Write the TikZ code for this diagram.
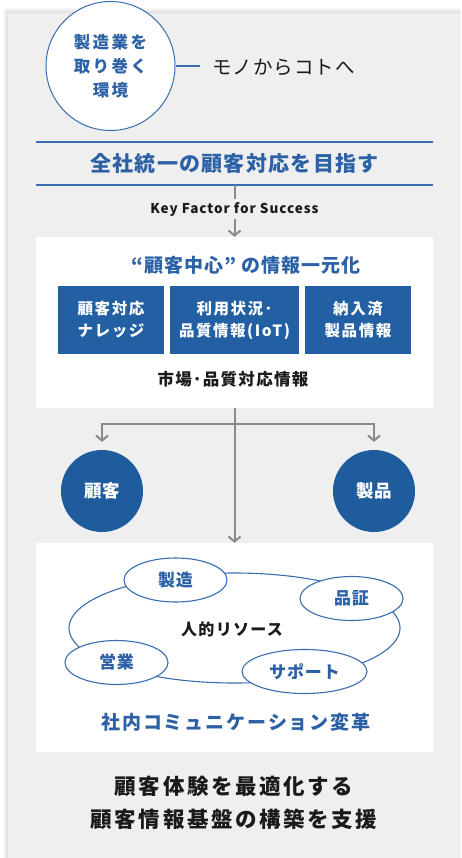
\documentclass[tikz,border=0pt]{standalone}
\usepackage{fontspec}
\setmainfont{Noto Sans CJK JP}
\usetikzlibrary{arrows.meta,shapes.geometric}
\definecolor{panelgray}{HTML}{EFEFEF}
\definecolor{txtblue}{HTML}{2C62A5}
\definecolor{lineblue}{HTML}{3A6DB0}
\definecolor{boxblue}{HTML}{2260A3}
\definecolor{circblue}{HTML}{1E5C9E}
\definecolor{arrgray}{HTML}{8A8A8A}
\definecolor{txtblack}{HTML}{1A1A1A}
\newcommand{\fs}[3]{\fontsize{#1}{#2}\selectfont\bfseries\addfontfeatures{LetterSpace=#3}}
\newcommand{\fr}[3]{\fontsize{#1}{#2}\selectfont\addfontfeatures{LetterSpace=#3}}
\begin{document}
\begin{tikzpicture}[x=1pt,y=-1pt,
  blueline/.style={draw=lineblue, line width=1.1pt},
  grayline/.style={draw=arrgray, line width=2pt},
  arr/.style={draw=arrgray, line width=2pt, -{Straight Barb[length=5pt,width=12pt]}},
  whitebox/.style={fill=white, minimum width=397, minimum height=#1, inner sep=0},
  bluebox/.style={fill=boxblue, text=white, minimum height=68, inner sep=0, align=center, font=\fs{15.5}{22}{10}},
  bigcirc/.style={circle, fill=circblue, text=white, minimum size=82, inner sep=0, font=\fs{17.5}{20}{5}},
  smallell/.style={ellipse, draw=lineblue, line width=1.1pt, fill=white, minimum height=44, inner sep=0, text=txtblue, font=\fs{17}{20}{5}}
]
\useasboundingbox (0,0) rectangle (461,858);
% panel with soft shadow
\foreach \d in {1,2,3,4,5} {
  \fill[black, opacity=0.025] (8-\d,13-\d) rectangle (461,858);
}
\fill[panelgray] (8,13) rectangle (461,858);

% top circle
\node[circle, draw=lineblue, line width=1pt, fill=white, minimum size=129, inner sep=0,
      align=center, text=txtblue, font=\fs{16.5}{24}{15}] (env) at (110.5,66)
      {製造業を\\取り巻く\\環境};
\node[anchor=west, text=txtblack, font=\fr{19.5}{22}{5}, inner sep=0] (mono) at (212,67) {モノからコトへ};
\coordinate (monoend) at (200,66);
\draw[blueline] (env.east) -- (monoend);

% title with lines
\coordinate (l1a) at (36,142); \coordinate (l1b) at (433,142);
\coordinate (l2a) at (36,185); \coordinate (l2b) at (433,185);
\draw[blueline] (l1a) -- (l1b);
\draw[blueline] (l2a) -- (l2b);
\node[text=txtblue, font=\fs{21}{24}{6}] (goal) at (234.5,163) {全社統一の顧客対応を目指す};

% key factor
\coordinate (kftop) at (234.5,185);
\node[text=txtblack, font=\fs{13.5}{15}{7}, inner sep=2.5pt] (kf) at (234.5,209) {Key Factor for Success};
\draw[grayline] (kftop) -- (kf.north);

% box 1
\node[whitebox=171] (box1) at (234.5,322.5) {};
\draw[arr] (kf.south) -- (box1.north);
\node[text=txtblue, font=\fs{19}{22}{5}] (b1title) at (246,265) {“顧客中心” の情報一元化};
\node[bluebox, minimum width=106] (k1) at (111,320) {顧客対応\\ナレッジ};
\node[bluebox, minimum width=129] (k2) at (234.5,320) {利用状況･\\品質情報(IoT)};
\node[bluebox, minimum width=106] (k3) at (358,320) {納入済\\製品情報};
\node[text=txtblack, font=\fs{16.5}{20}{8}] (market) at (233,379) {市場･品質対応情報};

% circles
\node[bigcirc] (cust) at (102,491) {顧客};
\node[bigcirc] (prod) at (374,491) {製品};

% box 2
\node[whitebox=209] (box2) at (234.5,647.5) {};
\draw[arr] (box1.south) -- (box2.north);
\coordinate (br) at (234.5,424);
\draw[arr, shorten >=8pt] (br) -| (cust.north);
\draw[arr, shorten >=8pt] (br) -| (prod.north);

% ellipses
\node[ellipse, draw=lineblue, line width=1.1pt, minimum width=331, minimum height=110, inner sep=0] (ring) at (234.5,628) {};
\node[text=txtblack, font=\fs{16}{20}{8}] (human) at (232,629) {人的リソース};
\node[smallell, minimum width=103] (mfg) at (175.5,580) {製造};
\node[smallell, minimum width=103] (qa) at (351.5,598.5) {品証};
\node[smallell, minimum width=103] (sales) at (116.5,662.5) {営業};
\node[smallell, minimum width=125] (sup) at (304.5,671.5) {サポート};
\node[text=txtblue, font=\fs{19}{22}{10}] (comm) at (236,722) {社内コミュニケーション変革};

% bottom text
\node[align=center, text=txtblack, font=\fs{21.5}{33}{12}] (bottom) at (234,802.5)
  {顧客体験を最適化する\\顧客情報基盤の構築を支援};
\end{tikzpicture}
\end{document}
